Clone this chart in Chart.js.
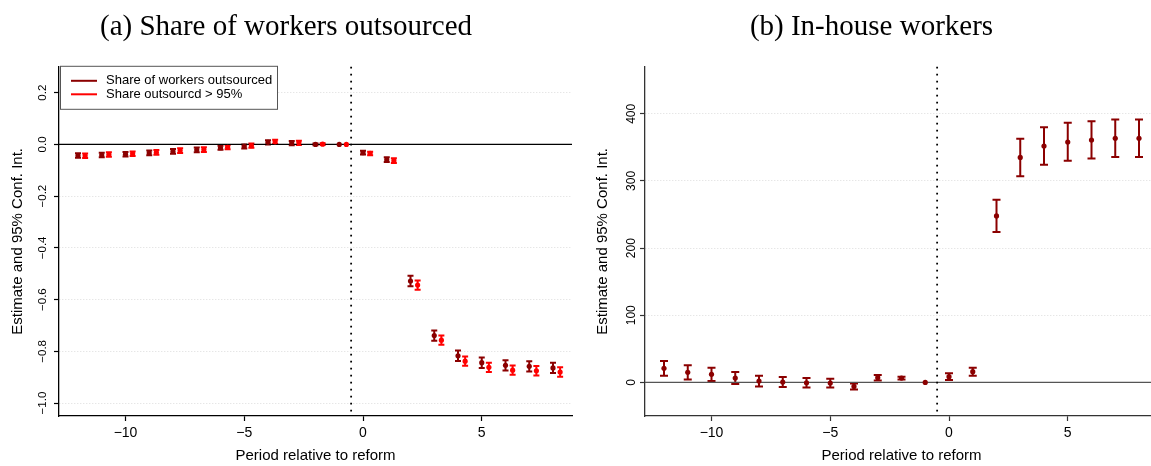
<!DOCTYPE html>
<html lang="en">
<head>
  <meta charset="UTF-8">
  <title>Outsourcing event study</title>
  <script src="https://cdn.jsdelivr.net/npm/chart.js"></script>
  <style>
    html, body { margin: 0; padding: 0; background: #fff; overflow: hidden; width: 1151px; height: 466px; }
    .panel { position: absolute; top: 0; }
    #left { left: 0; }
    #right { left: 585px; }
  </style>
</head>
<body>
  <div class="panel" id="left"><canvas id="shareChart" width="585" height="466"></canvas></div>
  <div class="panel" id="right"><canvas id="inhouseChart" width="590" height="466"></canvas></div>

<script>
  // periods relative to the reform (-1 is the omitted period)
  const periods = [-12, -11, -10, -9, -8, -7, -6, -5, -4, -3, -2, -1, 0, 1, 2, 3, 4, 5, 6, 7, 8];

  // (a) share of workers outsourced
  const shareEst = [-0.043, -0.041, -0.038, -0.033, -0.027, -0.021, -0.013, -0.008, 0.008, 0.005, 0.000, 0,
                    -0.032, -0.059, -0.528, -0.739, -0.817, -0.844, -0.854, -0.858, -0.864];
  const shareLo  = [-0.052, -0.050, -0.047, -0.042, -0.036, -0.030, -0.021, -0.016, 0.000, -0.003, -0.003, null,
                    -0.039, -0.068, -0.548, -0.759, -0.837, -0.864, -0.874, -0.878, -0.884];
  const shareHi  = [-0.034, -0.032, -0.029, -0.024, -0.018, -0.012, -0.005, 0.000, 0.016, 0.013, 0.003, null,
                    -0.025, -0.050, -0.508, -0.719, -0.797, -0.824, -0.834, -0.838, -0.844];

  // share outsourced > 95%
  const share95Est = [-0.044, -0.039, -0.036, -0.031, -0.024, -0.020, -0.011, -0.005, 0.010, 0.006, 0.001, 0,
                      -0.035, -0.063, -0.544, -0.757, -0.838, -0.862, -0.873, -0.875, -0.880];
  const share95Lo  = [-0.053, -0.048, -0.045, -0.040, -0.033, -0.029, -0.019, -0.013, 0.002, -0.002, -0.002, null,
                      -0.042, -0.072, -0.562, -0.775, -0.856, -0.880, -0.891, -0.893, -0.898];
  const share95Hi  = [-0.035, -0.030, -0.027, -0.022, -0.015, -0.011, -0.003, 0.003, 0.018, 0.014, 0.004, null,
                      -0.028, -0.054, -0.526, -0.739, -0.820, -0.844, -0.855, -0.857, -0.862];

  // (b) in-house workers
  const inhouseEst = [21, 15, 12, 6.5, 2, 0.5, -0.5, -1, -6, 7, 6.5, 0, 8.5, 16, 248, 335, 352, 358, 361, 363.5, 363.5];
  const inhouseLo  = [10, 4.5, 2, -2.5, -6, -7, -7.5, -7.5, -10.5, 3, 4.5, null, 3.5, 10, 224, 307, 324, 330, 333.5, 335.5, 335.5];
  const inhouseHi  = [32, 25.5, 22, 15.5, 10, 8, 6.5, 5.5, -1.5, 11, 8.5, null, 13.5, 22, 272, 363, 380, 386.5, 389, 391.5, 391.5];

  // tick labels
  const xTicks = [-10, -5, 0, 5];
  const shareTicks = [-1.0, -0.8, -0.6, -0.4, -0.2, 0.0, 0.2];
  const inhouseTicks = [0, 100, 200, 300, 400];

  const labelA = 'Share of workers outsourced';
  const labelB = 'Share outsourcd > 95%';

  const DARK = '#8b0000';
  const RED = '#ff0000';
  const SHIFT = 0.3; // second series is nudged right so the bars don't overlap

  Chart.defaults.font.family = "'Liberation Sans', Arial, sans-serif";
  Chart.defaults.color = '#000';

  const minus = s => String(s).replace('-', '\u2212');

  // confidence intervals, drawn under the points
  const errorBars = {
    id: 'errorBars',
    beforeDatasetsDraw(chart, args, opts) {
      const ctx = chart.ctx, xs = chart.scales.x, ys = chart.scales.y;
      const cap = opts.cap || 3;
      ctx.save();
      ctx.lineWidth = 2;
      chart.data.datasets.forEach(ds => {
        ctx.strokeStyle = ds.borderColor;
        ds.data.forEach((p, i) => {
          if (ds.lo[i] == null) return;
          const x = xs.getPixelForValue(p.x);
          const y1 = ys.getPixelForValue(ds.lo[i]);
          const y2 = ys.getPixelForValue(ds.hi[i]);
          ctx.beginPath();
          ctx.moveTo(x, y1); ctx.lineTo(x, y2);
          ctx.moveTo(x - cap, y1); ctx.lineTo(x + cap, y1);
          ctx.moveTo(x - cap, y2); ctx.lineTo(x + cap, y2);
          ctx.stroke();
        });
      });
      ctx.restore();
    }
  };

  // zero line and the dotted reform line
  const refLines = {
    id: 'refLines',
    beforeDatasetsDraw(chart, args, opts) {
      const {ctx, chartArea: a} = chart;
      const xs = chart.scales.x, ys = chart.scales.y;
      ctx.save();
      const y0 = ys.getPixelForValue(0);
      ctx.strokeStyle = opts.zeroColor;
      ctx.lineWidth = 1.4;
      ctx.beginPath();
      ctx.moveTo(a.left, y0); ctx.lineTo(a.right, y0);
      ctx.stroke();

      const xr = xs.getPixelForValue(-0.5);
      ctx.strokeStyle = '#000';
      ctx.lineWidth = 1.8;
      ctx.setLineDash([1.8, 5.2]);
      ctx.beginPath();
      ctx.moveTo(xr, a.top); ctx.lineTo(xr, a.bottom);
      ctx.stroke();
      ctx.restore();
    }
  };

  // boxed legend in the top-left corner of the plot
  const boxLegend = {
    id: 'boxLegend',
    afterDraw(chart, args, opts) {
      if (!opts.show) return;
      const {ctx, chartArea: a} = chart;
      const bx = a.left + 1, by = a.top - 1, bw = 217, bh = 43;
      ctx.save();
      ctx.fillStyle = '#fff';
      ctx.fillRect(bx, by, bw, bh);
      ctx.strokeStyle = '#555';
      ctx.lineWidth = 1;
      ctx.strokeRect(bx + 0.5, by + 0.5, bw, bh);
      ctx.font = "13px 'Liberation Sans', Arial, sans-serif";
      ctx.textBaseline = 'middle';
      chart.data.datasets.forEach((ds, i) => {
        const y = by + 15 + i * 13.5;
        ctx.strokeStyle = ds.borderColor;
        ctx.lineWidth = 2;
        ctx.beginPath();
        ctx.moveTo(bx + 11, y); ctx.lineTo(bx + 37, y);
        ctx.stroke();
        ctx.fillStyle = '#000';
        ctx.fillText(ds.label, bx + 46, y);
      });
      ctx.restore();
    }
  };

  function series(label, color, est, lo, hi, shift) {
    return {
      label: label,
      data: periods.map((p, i) => ({x: p + shift, y: est[i]})),
      lo: lo,
      hi: hi,
      backgroundColor: color,
      borderColor: color,
      pointRadius: 2.6,
      pointBorderWidth: 0,
      showLine: false
    };
  }

  function buildOptions(c) {
    return {
      responsive: false,
      animation: false,
      layout: { padding: { left: 0, right: c.padRight, top: 0, bottom: 0 } },
      plugins: {
        legend: { display: false },
        tooltip: { enabled: false },
        title: {
          display: true,
          text: c.title,
          font: { family: "'Liberation Serif', 'Times New Roman', serif", size: 29, weight: 'normal' },
          color: '#000',
          padding: { top: 10, bottom: 22 }
        },
        errorBars: { cap: c.cap },
        refLines: { zeroColor: c.zeroColor },
        boxLegend: { show: c.legend }
      },
      scales: {
        x: {
          type: 'linear',
          min: -12.8,
          max: 8.8,
          afterBuildTicks: s => { s.ticks = xTicks.map(v => ({value: v})); },
          afterFit: s => { s.height = 50; },
          grid: { drawOnChartArea: false, tickLength: 5, tickColor: c.axisColor, tickWidth: 1.2 },
          border: { color: c.axisColor, width: 1.3 },
          ticks: { font: { size: 14 }, padding: 4, maxRotation: 0, autoSkip: false, callback: v => minus(v) },
          title: { display: true, text: 'Period relative to reform', font: { size: 15 }, padding: { top: 0, bottom: 1 } }
        },
        y: {
          min: c.yMin,
          max: c.yMax,
          afterBuildTicks: s => { s.ticks = c.yTicks.map(v => ({value: v})); },
          afterFit: s => { s.width = c.yWidth; },
          grid: { color: '#dcdcdc', lineWidth: 1, tickLength: 5, tickColor: c.axisColor, tickWidth: 1.2 },
          border: { color: c.axisColor, width: 1.3, dash: [1, 2] },
          ticks: {
            font: { size: c.yTickSize },
            minRotation: 90,
            maxRotation: 90,
            crossAlign: 'center',
            padding: c.yTickPad,
            autoSkip: false,
            callback: c.yFormat
          },
          title: { display: true, text: 'Estimate and 95% Conf. Int.', font: { size: 15 }, padding: { top: c.yTitlePad, bottom: 0 } }
        }
      }
    };
  }

  new Chart(document.getElementById('shareChart'), {
    type: 'scatter',
    data: {
      datasets: [
        series(labelA, DARK, shareEst, shareLo, shareHi, 0),
        series(labelB, RED, share95Est, share95Lo, share95Hi, SHIFT)
      ]
    },
    options: buildOptions({
      title: '(a) Share of workers outsourced',
      padRight: 13,
      yMin: -1.05, yMax: 0.3,
      yTicks: shareTicks,
      yWidth: 59,
      yTickSize: 11.5,
      yTickPad: 0,
      yTitlePad: 9,
      yFormat: v => minus(v.toFixed(1)),
      axisColor: '#000',
      zeroColor: '#000',
      cap: 3,
      legend: true
    }),
    plugins: [errorBars, refLines, boxLegend]
  });

  new Chart(document.getElementById('inhouseChart'), {
    type: 'scatter',
    data: {
      datasets: [
        series('In-house workers', DARK, inhouseEst, inhouseLo, inhouseHi, 0)
      ]
    },
    options: buildOptions({
      title: '(b) In-house workers',
      padRight: 17,
      yMin: -50, yMax: 470,
      yTicks: inhouseTicks,
      yWidth: 60,
      yTickSize: 12,
      yTickPad: -2,
      yTitlePad: 8.5,
      yFormat: v => minus(v),
      axisColor: '#333',
      zeroColor: '#555',
      cap: 4,
      legend: false
    }),
    plugins: [errorBars, refLines, boxLegend]
  });
</script>
</body>
</html>
